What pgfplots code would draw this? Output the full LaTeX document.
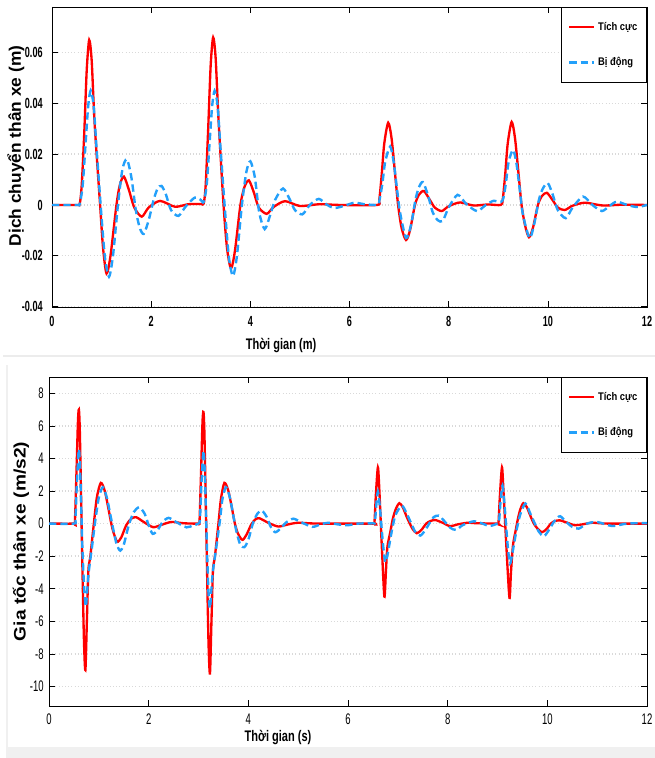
\documentclass[border=0pt]{standalone}
\usepackage{fontspec}
\setmainfont{Liberation Sans}
\newfontfamily\fTick[FakeStretch=0.62]{Liberation Sans}
\newfontfamily\fXlab[FakeStretch=0.72]{Liberation Sans}
\newfontfamily\fLeg[FakeStretch=0.85]{Liberation Sans}
\newfontfamily\fYa[FakeStretch=1.04]{Liberation Sans}
\newfontfamily\fYb[FakeStretch=1.15]{Liberation Sans}
\usepackage{pgfplots}
\pgfplotsset{compat=1.18}
\definecolor{actred}{RGB}{255,0,0}
\definecolor{pasblue}{RGB}{35,160,250}

\pgfplotsset{
  matlab/.style={
    scale only axis,
    xmin=0, xmax=12,
    xtick={0,2,4,6,8,10,12},
    xticklabels={0,2,4,6,8,10,12},
    tick align=inside,
    major tick length=4.5pt,
    minor tick num=0,
    axis line style={black, line width=0.6pt},
    tick style={black, line width=0.5pt},
    ymajorgrids,
    grid style={gray!30, dotted, line width=1.1pt},
    legend cell align=left,
    legend style={at={(rel axis cs:1,1)}, anchor=north east, draw=black,
      line width=0.6pt, inner xsep=5pt, inner ysep=9pt, row sep=15pt,
      font=\fontsize{8.3}{9}\fLeg\bfseries},
    legend image code/.code={\draw[##1] (0pt,0pt) -- (18.75pt,0pt);},
  },
  act/.style={actred, line width=1.75pt, smooth, tension=0.45},
  pas/.style={pasblue, line width=1.8pt, dash pattern=on 5.5pt off 3pt, smooth, tension=0.45},
}

\begin{document}
\begin{tikzpicture}
\useasboundingbox (0,0) rectangle (491.25pt,568.5pt);
% light grey frame pieces of the source screenshot
\draw[gray!15, line width=1.8pt] (2.25pt,301.5pt) -- (491.25pt,301.5pt);
\fill[gray!12] (5.25pt,0pt) rectangle (491.25pt,8.25pt);
\draw[gray!12, line width=1.2pt] (5.25pt,0pt) -- (5.25pt,294.75pt);

% ---------- displacement ----------
\begin{axis}[matlab,
  at={(39pt,338.25pt)}, anchor=south west,
  width=446.25pt, height=225pt,
  ymin=-0.0402, ymax=0.078,
  ytick={-0.04,-0.02,0,0.02,0.04,0.06},
  yticklabels={-0.04,-0.02,0,0.02,0.04,0.06},
  ticklabel style={font=\fontsize{11}{12}\fTick\bfseries},
  xticklabel style={yshift=-3.5pt},
  yticklabel style={xshift=-3.5pt},
  xlabel={Thời gian (m)},
  ylabel={Dịch chuyển thân xe (m)},
  xlabel style={at={(axis description cs:0.385,-0.143)}, anchor=base, font=\fontsize{11.5}{12}\fXlab\bfseries},
  ylabel style={at={(axis description cs:-0.0605,0.537)}, anchor=center, font=\fontsize{12.5}{13}\fYa\bfseries},
]
\addplot[act] coordinates {
(0,0) (0.5,0) (0.56,0.0005) (0.6,0.008) (0.65,0.028) (0.7,0.053) (0.75,0.065) (0.8,0.057)
(0.86,0.032) (0.97,0) (1.03,-0.017) (1.10,-0.027) (1.18,-0.020) (1.30,0) (1.37,0.008)
(1.45,0.0112) (1.55,0.006) (1.66,-0.001) (1.81,-0.0046) (1.95,-0.001) (2.18,0.0016)
(2.48,-0.0007) (2.75,0.0003) (3.0,0.0004) (3.06,0.0006)
(3.1,0.008) (3.15,0.03) (3.2,0.055) (3.25,0.066) (3.3,0.058) (3.36,0.033) (3.46,0)
(3.53,-0.017) (3.61,-0.025) (3.69,-0.018) (3.8,0) (3.88,0.007) (3.97,0.0097) (4.07,0.005)
(4.17,-0.001) (4.33,-0.0035) (4.47,-0.0008) (4.7,0.0015) (5.0,-0.0004) (5.4,0.0003)
(5.8,0) (6.55,0)
(6.6,0.002) (6.65,0.012) (6.7,0.024) (6.78,0.0324) (6.85,0.026) (6.93,0.01) (6.98,0)
(7.05,-0.009) (7.14,-0.0138) (7.22,-0.01) (7.32,0) (7.4,0.004) (7.5,0.0055) (7.62,0.002)
(7.72,-0.001) (7.86,-0.0024) (8.0,-0.0005) (8.23,0.001) (8.5,-0.0002) (8.8,0.0002) (9.05,0)
(9.09,0.002) (9.14,0.012) (9.19,0.024) (9.27,0.0327) (9.34,0.026) (9.42,0.01) (9.47,0)
(9.54,-0.008) (9.62,-0.0127) (9.7,-0.009) (9.8,0) (9.88,0.0035) (9.98,0.0048) (10.1,0.0018)
(10.2,-0.001) (10.34,-0.002) (10.5,-0.0003) (10.75,0.0009) (11.1,-0.0002) (11.5,0.0001) (12,0)
};
\addlegendentry{Tích cực}
\addplot[pas] coordinates {
(0,0) (0.5,0) (0.56,0.0005) (0.62,0.008) (0.68,0.025) (0.73,0.039) (0.78,0.0451) (0.84,0.039)
(0.9,0.022) (1.0,-0.005) (1.07,-0.021) (1.15,-0.0283) (1.23,-0.02) (1.33,0) (1.42,0.014)
(1.51,0.018) (1.6,0.011) (1.69,-0.002) (1.77,-0.009) (1.85,-0.0114) (1.95,-0.006) (2.05,0.002)
(2.13,0.0065) (2.21,0.0075) (2.3,0.004) (2.4,-0.002) (2.55,-0.0043) (2.7,-0.0005) (2.88,0.0029)
(3.0,0.002) (3.06,0.0012)
(3.12,0.008) (3.18,0.025) (3.23,0.039) (3.28,0.045) (3.34,0.039) (3.4,0.022) (3.5,-0.005)
(3.57,-0.021) (3.65,-0.028) (3.73,-0.02) (3.83,0) (3.92,0.013) (4.0,0.0172) (4.09,0.011)
(4.18,-0.003) (4.29,-0.0095) (4.4,-0.004) (4.5,0.002) (4.66,0.0065) (4.8,0.002) (4.9,-0.002)
(5.05,-0.0037) (5.2,0) (5.38,0.0024) (5.55,0) (5.7,-0.0012) (5.9,-0.0003) (6.1,0.0009)
(6.3,0.0003) (6.57,0)
(6.6,0.0015) (6.66,0.008) (6.72,0.017) (6.82,0.023) (6.89,0.017) (6.96,0.006) (7.02,-0.003)
(7.14,-0.013) (7.24,-0.008) (7.33,0.002) (7.4,0.007) (7.48,0.009) (7.58,0.004) (7.68,-0.003)
(7.78,-0.006) (7.88,-0.0063) (8.0,-0.001) (8.18,0.004) (8.35,0.0005) (8.57,-0.0024) (8.75,0)
(8.9,0.0016) (9.05,0.0012)
(9.1,0.0025) (9.15,0.008) (9.21,0.017) (9.3,0.0217) (9.37,0.016) (9.44,0.005) (9.5,-0.004)
(9.63,-0.013) (9.72,-0.008) (9.82,0.002) (9.9,0.0065) (10.0,0.0086) (10.1,0.004) (10.2,-0.002)
(10.36,-0.0052) (10.5,-0.001) (10.71,0.0033) (10.9,0) (11.09,-0.0024) (11.25,-0.0003)
(11.39,0.0013) (11.6,0) (11.8,-0.0008) (12,0)
};
\addlegendentry{Bị động}
\end{axis}

% ---------- acceleration ----------
\begin{axis}[matlab,
  at={(36.75pt,39pt)}, anchor=south west,
  width=448.5pt, height=246.75pt,
  ymin=-11.2, ymax=9,
  ytick={-10,-8,-6,-4,-2,0,2,4,6,8},
  yticklabels={-10,-8,-6,-4,-2,0,2,4,6,8},
  ticklabel style={font=\fontsize{11.5}{12}\fTick},
  xticklabel style={yshift=-2.5pt},
  yticklabel style={xshift=-0.5pt},
  xlabel={Thời gian (s)},
  ylabel={Gia tốc thân xe (m/s2)},
  xlabel style={at={(axis description cs:0.383,-0.109)}, anchor=base, font=\fontsize{11.5}{12}\fXlab\bfseries},
  ylabel style={at={(axis description cs:-0.047,0.5)}, anchor=center, font=\fontsize{12.5}{13}\fYb\bfseries},
]
\addplot[act] coordinates {
(0,0) (0.5,0) (0.52,0.1) (0.55,3.0) (0.58,6.2) (0.6,7.0) (0.62,5.5) (0.66,-1.0) (0.7,-7.0)
(0.73,-9.0) (0.76,-6.0) (0.79,-2.9) (0.83,-2.0) (0.9,0) (0.96,1.6) (1.04,2.5) (1.12,2.0)
(1.2,0.8) (1.25,0) (1.3,-0.6) (1.37,-1.12) (1.45,-0.85) (1.55,-0.1) (1.65,0.3) (1.75,0.39)
(1.9,0.1) (2.09,-0.22) (2.25,-0.08) (2.46,0.1) (2.7,0.02) (3.0,0)
(3.02,0.1) (3.05,3.0) (3.08,6.2) (3.1,6.85) (3.12,5.4) (3.16,-1.0) (3.2,-7.2) (3.23,-9.2)
(3.26,-6.0) (3.29,-2.9) (3.33,-2.0) (3.4,0) (3.45,1.5) (3.52,2.5) (3.6,2.0) (3.68,0.8)
(3.73,0) (3.79,-0.6) (3.88,-1.0) (3.96,-0.7) (4.06,-0.05) (4.14,0.25) (4.22,0.33) (4.4,0.05)
(4.6,-0.18) (4.8,-0.05) (5.0,0.05) (5.4,0) (6.5,0)
(6.53,0.05) (6.56,1.8) (6.6,3.45) (6.63,2.0) (6.68,-1.5) (6.73,-4.48) (6.76,-3.0) (6.79,-1.45)
(6.85,-0.5) (6.9,0.3) (6.96,0.9) (7.03,1.25) (7.1,1.0) (7.18,0.4) (7.24,0) (7.3,-0.35)
(7.38,-0.59) (7.47,-0.4) (7.57,0) (7.65,0.15) (7.75,0.22) (7.9,0.05) (8.05,-0.16) (8.2,-0.05)
(8.4,0.05) (8.6,0.02) (9.0,0)
(9.02,0.05) (9.05,1.8) (9.09,3.45) (9.12,2.0) (9.18,-1.5) (9.24,-4.56) (9.27,-3.0) (9.31,-1.35)
(9.36,-0.5) (9.41,0.3) (9.46,0.9) (9.52,1.25) (9.59,1.0) (9.67,0.4) (9.73,0) (9.8,-0.3)
(9.89,-0.53) (9.98,-0.35) (10.07,0) (10.15,0.15) (10.25,0.2) (10.4,0.05) (10.55,-0.1)
(10.7,-0.05) (10.9,0.05) (11.2,0) (12,0)
};
\addlegendentry{Tích cực}
\addplot[pas] coordinates {
(0,0) (0.5,0) (0.53,0.3) (0.56,2.5) (0.6,4.58) (0.63,2.8) (0.67,-1.5) (0.71,-4.2) (0.74,-5.1)
(0.77,-4.0) (0.8,-2.9) (0.86,-1.5) (0.93,0.2) (1.0,1.6) (1.08,2.23) (1.16,1.6) (1.24,0.4)
(1.3,-0.5) (1.36,-1.3) (1.43,-1.66) (1.5,-1.3) (1.6,-0.1) (1.7,0.7) (1.81,1.0) (1.92,0.6)
(2.0,-0.1) (2.08,-0.63) (2.18,-0.4) (2.28,0.1) (2.4,0.35) (2.55,0.1) (2.76,-0.23) (2.9,-0.1)
(3.0,0)
(3.03,0.3) (3.06,2.5) (3.1,4.48) (3.13,2.8) (3.17,-1.5) (3.2,-4.2) (3.23,-5.2) (3.26,-4.0)
(3.29,-2.9) (3.36,-1.4) (3.43,0.2) (3.48,1.5) (3.55,2.23) (3.63,1.6) (3.71,0.3) (3.77,-0.6)
(3.84,-1.3) (3.92,-1.45) (4.0,-1.0) (4.09,0) (4.18,0.6) (4.27,0.8) (4.37,0.4) (4.45,-0.2)
(4.54,-0.53) (4.65,-0.3) (4.75,0.05) (4.9,0.3) (5.05,0.1) (5.28,-0.2) (5.45,-0.05) (5.6,0.05)
(5.8,-0.05) (6.0,-0.1) (6.2,0) (6.5,0.02)
(6.54,0.1) (6.57,1.2) (6.6,1.96) (6.64,1.0) (6.7,-1.2) (6.75,-2.37) (6.8,-1.8) (6.87,-0.6)
(6.95,0.5) (7.08,1.1) (7.18,0.6) (7.27,0) (7.35,-0.5) (7.45,-0.74) (7.55,-0.4) (7.65,0.1)
(7.72,0.4) (7.82,0.49) (7.92,0.2) (8.05,-0.25) (8.17,-0.39) (8.3,-0.1) (8.52,0.14) (8.7,0)
(8.84,-0.15) (9.0,0)
(9.03,0.1) (9.06,1.3) (9.1,2.33) (9.14,1.2) (9.2,-1.2) (9.25,-2.45) (9.3,-1.8) (9.37,-0.6)
(9.45,0.5) (9.56,1.23) (9.66,0.6) (9.75,0) (9.83,-0.5) (9.93,-0.78) (10.03,-0.4) (10.13,0.1)
(10.2,0.35) (10.26,0.45) (10.38,0.1) (10.5,-0.2) (10.63,-0.31) (10.8,0) (11.0,0.1) (11.3,-0.15)
(11.6,0) (12,0.03)
};
\addlegendentry{Bị động}
\end{axis}
\end{tikzpicture}
\end{document}
